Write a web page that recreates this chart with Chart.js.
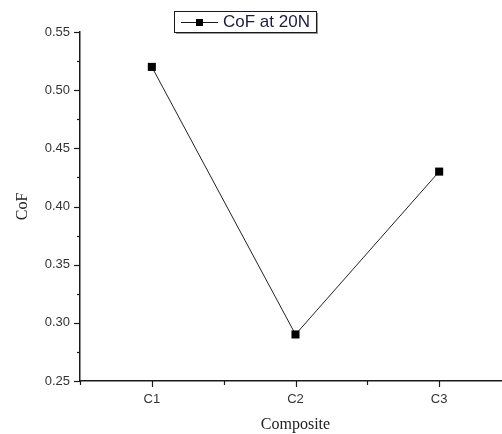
<!DOCTYPE html>
<html>
<head>
<meta charset="utf-8">
<script src="https://cdn.jsdelivr.net/npm/chart.js@4"></script>
<style>
  html, body { margin: 0; padding: 0; background: #fff; overflow: hidden; }
  #wrap { width: 522px; height: 434px; }
</style>
</head>
<body>
<div id="wrap"><canvas id="cof-chart" width="522" height="434"></canvas></div>
<script>
// Chart data
const categories = ['C1', 'C2', 'C3'];
const cofValues = [0.52, 0.29, 0.43];
const seriesLabel = 'CoF at 20N';

const axisColor = '#1a1a1a';
const tickFont = { family: 'Liberation Sans, Arial', size: 13 };
const titleFont = { family: 'Liberation Serif, Times New Roman', size: 16, lineHeight: 1 };

// Tick marks: long at labelled ticks, short in between
const tickMarks = {
    id: 'tickMarks',
    afterDraw(chart) {
        const ctx = chart.ctx;
        const xs = chart.scales.x, ys = chart.scales.y;
        ctx.save();
        ctx.strokeStyle = axisColor;
        ctx.lineWidth = 1.2;
        ys.ticks.forEach(t => {
            const y = Math.round(ys.getPixelForValue(t.value)) + 0.5;
            const len = t.label ? 6 : 3;
            ctx.beginPath();
            ctx.moveTo(ys.right - len, y);
            ctx.lineTo(ys.right, y);
            ctx.stroke();
        });
        xs.ticks.forEach(t => {
            const x = Math.round(xs.getPixelForValue(t.value)) + 0.5;
            const len = t.label ? 6 : 4;
            ctx.beginPath();
            ctx.moveTo(x, xs.top);
            ctx.lineTo(x, xs.top + len);
            ctx.stroke();
        });
        ctx.restore();
    }
};

// Boxed legend with line + square symbol
const boxLegend = {
    id: 'boxLegend',
    afterDraw(chart) {
        const ctx = chart.ctx;
        const ds = chart.data.datasets[0];
        const bx = 174, by = 11, bw = 142, bh = 21;
        ctx.save();
        ctx.fillStyle = '#9a9a9a';
        ctx.fillRect(bx + 2, by + 2, bw, bh);
        ctx.fillStyle = '#fff';
        ctx.fillRect(bx, by, bw, bh);
        ctx.strokeStyle = axisColor;
        ctx.lineWidth = 1;
        ctx.strokeRect(bx + 0.5, by + 0.5, bw, bh);
        const cy = by + bh / 2 + 1;
        ctx.beginPath();
        ctx.moveTo(181, cy);
        ctx.lineTo(218, cy);
        ctx.stroke();
        ctx.fillStyle = '#000';
        ctx.fillRect(196, cy - 3.5, 7, 7);
        ctx.fillStyle = '#1c1c3c';
        ctx.font = '17px Liberation Sans, Arial';
        ctx.textBaseline = 'middle';
        ctx.fillText(ds.label, 223, cy);
        ctx.restore();
    }
};

const chart = new Chart(document.getElementById('cof-chart').getContext('2d'), {
    type: 'line',
    data: {
        datasets: [{
            label: seriesLabel,
            data: cofValues.map((v, i) => ({ x: i + 1, y: v })),
            borderColor: '#222',
            borderWidth: 1,
            pointStyle: 'rect',
            pointRadius: 5.7,
            pointBackgroundColor: '#000',
            pointBorderColor: '#000',
            pointBorderWidth: 0,
            tension: 0
        }]
    },
    options: {
        responsive: false,
        animation: false,
        events: [],
        layout: { padding: { top: 32, right: 3, bottom: 0, left: 0 } },
        plugins: {
            legend: { display: false },
            tooltip: { enabled: false }
        },
        scales: {
            x: {
                type: 'linear',
                min: 0.5,
                max: 3.5,
                afterFit: s => { s.height = 53; },
                grid: { display: true, drawOnChartArea: false, drawTicks: false },
                border: { display: true, color: axisColor, width: 1.5 },
                ticks: {
                    stepSize: 0.5,
                    autoSkip: false,
                    maxRotation: 0,
                    padding: 11,
                    color: '#333',
                    font: tickFont,
                    callback: v => Number.isInteger(v) ? categories[v - 1] : ''
                },
                title: {
                    display: true,
                    text: 'Composite',
                    color: '#222',
                    font: titleFont,
                    padding: { top: 0, bottom: 1 }
                }
            },
            y: {
                min: 0.25,
                max: 0.55,
                afterFit: s => { s.width = 80; },
                grid: { display: true, drawOnChartArea: false, drawTicks: false },
                border: { display: true, color: axisColor, width: 1.5 },
                ticks: {
                    stepSize: 0.025,
                    autoSkip: false,
                    padding: 10,
                    color: '#333',
                    font: tickFont,
                    callback: v => {
                        const r = Math.round(v * 1000);
                        return r % 50 === 0 ? (r / 1000).toFixed(2) : '';
                    }
                },
                title: {
                    display: true,
                    text: 'CoF',
                    color: '#222',
                    font: titleFont,
                    padding: { top: 15, bottom: 0 }
                }
            }
        }
    },
    plugins: [tickMarks, boxLegend]
});
</script>
</body>
</html>
